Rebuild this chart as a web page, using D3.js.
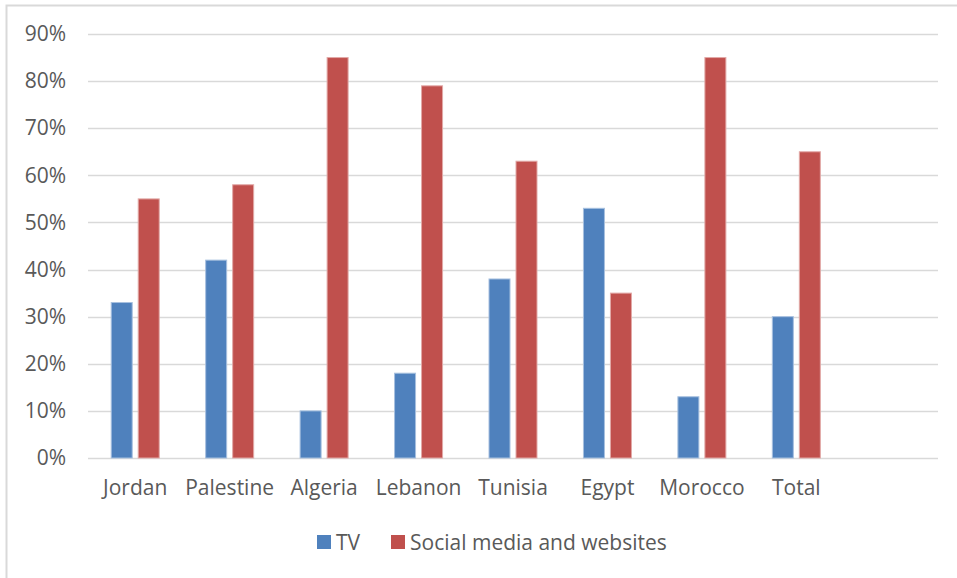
<!DOCTYPE html>
<html>
<head>
<meta charset="utf-8">
<script src="https://cdn.jsdelivr.net/npm/d3@7"></script>
<style>
  html, body { margin: 0; padding: 0; background: #fff; }
  svg { display: block; }
  text { font-family: "Open Sans", "Liberation Sans", sans-serif; fill: #595959; }
</style>
</head>
<body>
<svg id="chart" width="957" height="578"></svg>
<script>
// Share of respondents naming each source, by country
const categories = ["Jordan", "Palestine", "Algeria", "Lebanon", "Tunisia", "Egypt", "Morocco", "Total", ""];
const seriesNames = ["TV", "Social media and websites"];
const tvValues = [33, 42, 10, 18, 38, 53, 13, 30, null];
const socialValues = [55, 58, 85, 79, 63, 35, 85, 65, null];
const yTicks = [0, 10, 20, 30, 40, 50, 60, 70, 80, 90];
const colors = ["#4F81BD", "#C0504D"];

const svg = d3.select("#chart");
const W = 957, H = 578;
const FONT = 21;

// outer chart frame (extends past the right and bottom edges)
svg.append("rect")
  .attr("x", 6.5).attr("y", 5.5)
  .attr("width", W + 10).attr("height", H + 10)
  .attr("fill", "#fff")
  .attr("stroke", "#d9d9d9").attr("stroke-width", 2);

const plot = { left: 88, right: 938, top: 34, bottom: 458 };

const x = d3.scaleBand()
  .domain(categories.map((c, i) => i))
  .range([plot.left, plot.right])
  .paddingInner(0).paddingOuter(0);

const y = d3.scaleLinear().domain([0, 90]).range([plot.bottom, plot.top]);

const barW = 21, gap = 6;

// gridlines
svg.append("g")
  .selectAll("line")
  .data(yTicks)
  .join("line")
  .attr("x1", plot.left).attr("x2", plot.right)
  .attr("y1", d => Math.round(y(d)) + 0.5).attr("y2", d => Math.round(y(d)) + 0.5)
  .attr("stroke", "#d9d9d9").attr("stroke-width", 1.5);

// y axis labels
const yAxis = d3.axisLeft(y).tickValues(yTicks).tickSize(0).tickPadding(22)
  .tickFormat(d => d + "%");
const gy = svg.append("g").attr("transform", `translate(${plot.left},0)`).call(yAxis);
gy.select(".domain").remove();
gy.selectAll("text")
  .attr("font-size", FONT)
  .attr("fill", "#595959")
  .style("font-family", '"Open Sans", "Liberation Sans", sans-serif');

// bars
const series = [tvValues, socialValues];
series.forEach((vals, s) => {
  svg.append("g")
    .selectAll("rect")
    .data(vals.map((v, i) => ({ v, i })).filter(d => d.v != null))
    .join("rect")
    .attr("x", d => x.bandwidth() / 2 + x(d.i) - (barW + gap / 2) + s * (barW + gap))
    .attr("y", d => y(d.v))
    .attr("width", barW)
    .attr("height", d => y(0) - y(d.v))
    .attr("fill", colors[s])
    .attr("stroke", s === 0 ? "#a7c0df" : "#e2a9a7")
    .attr("stroke-width", 1);
});

// x axis labels
const xAxis = d3.axisBottom(x).tickSize(0).tickPadding(22)
  .tickFormat(i => categories[i]);
const gx = svg.append("g").attr("transform", `translate(0,${plot.bottom})`).call(xAxis);
gx.select(".domain").remove();
gx.selectAll("text")
  .attr("font-size", FONT)
  .attr("fill", "#595959")
  .style("font-family", '"Open Sans", "Liberation Sans", sans-serif');

// legend
const legend = svg.append("g");
const legendItems = [
  { name: seriesNames[0], color: colors[0], x: 317 },
  { name: seriesNames[1], color: colors[1], x: 391 }
];
legendItems.forEach(it => {
  legend.append("rect")
    .attr("x", it.x).attr("y", 535).attr("width", 14).attr("height", 14)
    .attr("fill", it.color);
  legend.append("text")
    .attr("x", it.x + 19).attr("y", 550)
    .attr("font-size", FONT)
    .text(it.name);
});
</script>
</body>
</html>
